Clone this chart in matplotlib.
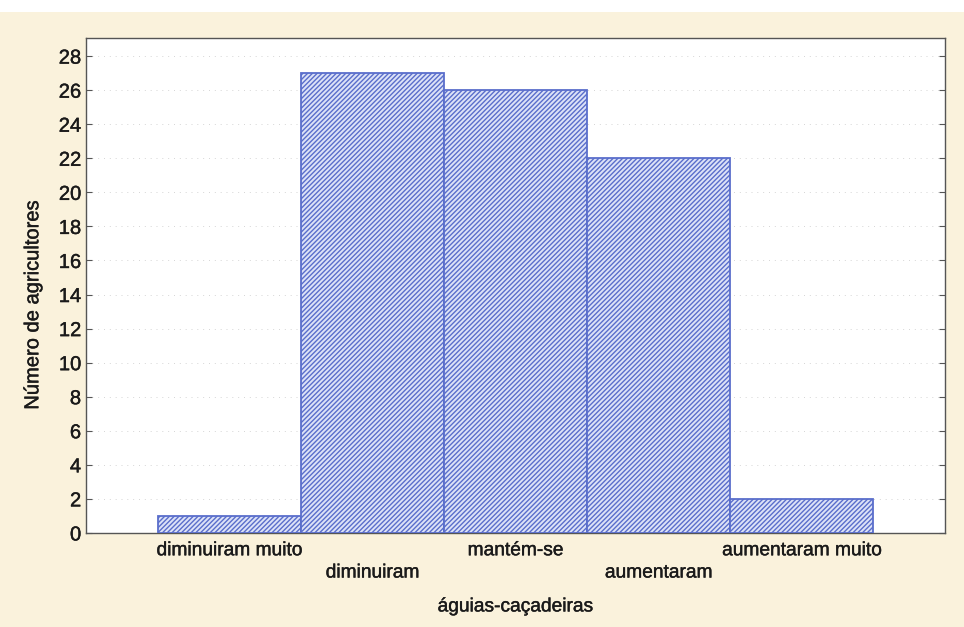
import numpy as np
import matplotlib.pyplot as plt
import matplotlib.patheffects as pe
from matplotlib.patches import Rectangle

# Data
categories = ['diminuiram muito', 'diminuiram', 'mantém-se', 'aumentaram', 'aumentaram muito']
counts = [1, 27, 26, 22, 2]
y_ticks = list(range(0, 29, 2))

plt.rcParams['font.family'] = ['Liberation Sans', 'DejaVu Sans']
plt.rcParams['hatch.color'] = '#6c80d4'
plt.rcParams['hatch.linewidth'] = 1.0

fig = plt.figure(figsize=(9.64, 6.27), dpi=100, facecolor='#faf2dc')
# white strip at the top of the scanned page
fig.patches.append(Rectangle((0, 1 - 12 / 627), 1, 12 / 627, transform=fig.transFigure,
                             facecolor='white', edgecolor='none'))

ax = fig.add_axes([0.0892, 0.150, 0.8911, 0.789])
ax.set_facecolor('white')

thick = [pe.withStroke(linewidth=0.3, foreground='#1a1a1a')]

x = np.arange(len(categories))
ax.bar(x, counts, width=1.0, color='#dce2f7', edgecolor='#5a6ecb',
       linewidth=1.3, hatch='///////', zorder=3)

ax.set_xlim(-1, 5)
ax.set_ylim(0, 29.05)
ax.set_yticks(y_ticks)
ax.tick_params(axis='y', labelsize=14.5, direction='in', length=4, color='#555555',
               right=True, labelcolor='#1a1a1a')
for t in ax.get_yticklabels():
    t.set_path_effects(thick)
ax.yaxis.grid(True, linestyle=(0, (1, 5)), color='#d5d5d5', linewidth=0.7, zorder=0)

# staggered category labels
ax.set_xticks(x)
ax.set_xticklabels([])
ax.tick_params(axis='x', length=0)
for i, lab in enumerate(categories):
    off = -0.036 if i % 2 == 0 else -0.081
    ax.text(i, off, lab, transform=ax.get_xaxis_transform(), ha='center', va='center',
            fontsize=13.8, color='#1a1a1a', path_effects=thick)

for s in ax.spines.values():
    s.set_color('#555555')
    s.set_linewidth(1.0)

fig.text(0.534, 0.032, 'águias-caçadeiras', ha='center', va='center', fontsize=13.8,
         color='#1a1a1a', path_effects=thick)
fig.text(0.034, 0.514, 'Número de agricultores', ha='center', va='center', rotation=90,
         fontsize=14.5, color='#1a1a1a', path_effects=thick)

fig.savefig('out.png', dpi=100, facecolor=fig.get_facecolor())
